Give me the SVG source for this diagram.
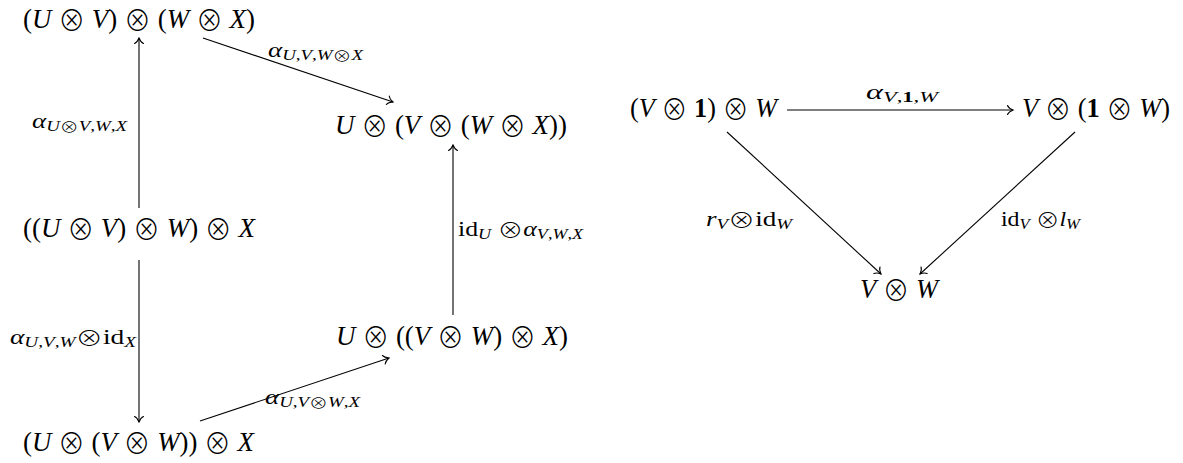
<svg xmlns="http://www.w3.org/2000/svg" width="1183" height="463" viewBox="0 0 1183 463">
<style>
text { font-family: "Liberation Serif", "DejaVu Serif", serif; fill: #000; }
.n { font-size: 28px; }
.l { font-size: 20px; }
.s { font-size: 14px; }
.i { font-style: italic; }
.b { font-weight: bold; font-style: normal; }
.o { font-family: "DejaVu Sans", "Noto Sans CJK JP", sans-serif; font-weight: 200; font-style: normal; baseline-shift: -0.1em; }
.c line { stroke: #000; stroke-width: 1.1; fill: none; marker-end: url(#arr); }
</style>
<defs>
<marker id="arr" viewBox="-7 -6 8 12" refX="0" refY="0" markerWidth="8" markerHeight="12" markerUnits="userSpaceOnUse" orient="auto">
<path d="M -5.5 -4.5 C -4.5 -2 -1.5 -0.6 0 0 C -1.5 0.6 -4.5 2 -5.5 4.5" fill="none" stroke="#000" stroke-width="1.1" stroke-linecap="round"/>
</marker>
</defs>
<rect width="1183" height="463" fill="#fff"/>

<g id="n1"><text class="n" x="23" y="28" textLength="232" lengthAdjust="spacingAndGlyphs">(<tspan class="i">U</tspan> <tspan class="o">⊗</tspan> <tspan class="i">V</tspan>) <tspan class="o">⊗</tspan> (<tspan class="i">W</tspan> <tspan class="o">⊗</tspan> <tspan class="i">X</tspan>)</text></g>
<g id="n2"><text class="n" x="335" y="134" textLength="232" lengthAdjust="spacingAndGlyphs"><tspan class="i">U</tspan> <tspan class="o">⊗</tspan> (<tspan class="i">V</tspan> <tspan class="o">⊗</tspan> (<tspan class="i">W</tspan> <tspan class="o">⊗</tspan> <tspan class="i">X</tspan>))</text></g>
<g id="n3"><text class="n" x="23" y="237" textLength="232" lengthAdjust="spacingAndGlyphs">((<tspan class="i">U</tspan> <tspan class="o">⊗</tspan> <tspan class="i">V</tspan>) <tspan class="o">⊗</tspan> <tspan class="i">W</tspan>) <tspan class="o">⊗</tspan> <tspan class="i">X</tspan></text></g>
<g id="n4"><text class="n" x="336" y="345" textLength="232" lengthAdjust="spacingAndGlyphs"><tspan class="i">U</tspan> <tspan class="o">⊗</tspan> ((<tspan class="i">V</tspan> <tspan class="o">⊗</tspan> <tspan class="i">W</tspan>) <tspan class="o">⊗</tspan> <tspan class="i">X</tspan>)</text></g>
<g id="n5"><text class="n" x="23" y="451" textLength="231" lengthAdjust="spacingAndGlyphs">(<tspan class="i">U</tspan> <tspan class="o">⊗</tspan> (<tspan class="i">V</tspan> <tspan class="o">⊗</tspan> <tspan class="i">W</tspan>)) <tspan class="o">⊗</tspan> <tspan class="i">X</tspan></text></g>
<g id="n6"><text class="n" x="630" y="117" textLength="147" lengthAdjust="spacingAndGlyphs">(<tspan class="i">V</tspan> <tspan class="o">⊗</tspan> <tspan class="b">1</tspan>) <tspan class="o">⊗</tspan> <tspan class="i">W</tspan></text></g>
<g id="n7"><text class="n" x="1022" y="117" textLength="148" lengthAdjust="spacingAndGlyphs"><tspan class="i">V</tspan> <tspan class="o">⊗</tspan> (<tspan class="b">1</tspan> <tspan class="o">⊗</tspan> <tspan class="i">W</tspan>)</text></g>
<g id="n8"><text class="n" x="860" y="298" textLength="78" lengthAdjust="spacingAndGlyphs"><tspan class="i">V</tspan> <tspan class="o">⊗</tspan> <tspan class="i">W</tspan></text></g>

<g id="connectors" class="c">
<line x1="139" y1="208" x2="139" y2="38"/>
<line x1="139" y1="260" x2="139" y2="422"/>
<line x1="203" y1="38" x2="393" y2="102"/>
<line x1="200" y1="421" x2="389" y2="358"/>
<line x1="453" y1="315" x2="453" y2="145"/>
<line x1="787" y1="110" x2="1013" y2="110"/>
<line x1="727" y1="132" x2="881" y2="274"/>
<line x1="1075" y1="132" x2="920" y2="274"/>
</g>

<g id="labels">
<text x="32" y="128" textLength="95" lengthAdjust="spacingAndGlyphs"><tspan class="l i">α</tspan><tspan class="s" y="131"><tspan class="i">U</tspan><tspan class="o">⊗</tspan><tspan class="i">V</tspan>,<tspan class="i">W</tspan>,<tspan class="i">X</tspan></tspan></text>
<text x="268" y="57" textLength="95" lengthAdjust="spacingAndGlyphs"><tspan class="l i">α</tspan><tspan class="s" y="60"><tspan class="i">U</tspan>,<tspan class="i">V</tspan>,<tspan class="i">W</tspan><tspan class="o">⊗</tspan><tspan class="i">X</tspan></tspan></text>
<text x="458" y="236" textLength="125" lengthAdjust="spacingAndGlyphs"><tspan class="l">id</tspan><tspan class="s i" y="239">U</tspan><tspan class="l" y="236"> <tspan class="o">⊗</tspan></tspan><tspan class="l i">α</tspan><tspan class="s" y="239"><tspan class="i">V</tspan>,<tspan class="i">W</tspan>,<tspan class="i">X</tspan></tspan></text>
<text x="10" y="344" textLength="126" lengthAdjust="spacingAndGlyphs"><tspan class="l i">α</tspan><tspan class="s" y="347"><tspan class="i">U</tspan>,<tspan class="i">V</tspan>,<tspan class="i">W</tspan></tspan><tspan class="l o" y="344">⊗</tspan><tspan class="l">id</tspan><tspan class="s i" y="347">X</tspan></text>
<text x="265" y="404" textLength="95" lengthAdjust="spacingAndGlyphs"><tspan class="l i">α</tspan><tspan class="s" y="407"><tspan class="i">U</tspan>,<tspan class="i">V</tspan><tspan class="o">⊗</tspan><tspan class="i">W</tspan>,<tspan class="i">X</tspan></tspan></text>
<text x="866" y="99" textLength="72" lengthAdjust="spacingAndGlyphs"><tspan class="l i">α</tspan><tspan class="s" y="102"><tspan class="i">V</tspan>,<tspan class="b">1</tspan>,<tspan class="i">W</tspan></tspan></text>
<text x="706" y="226" textLength="86" lengthAdjust="spacingAndGlyphs"><tspan class="l i">r</tspan><tspan class="s i" y="229">V</tspan><tspan class="l o" y="226">⊗</tspan><tspan class="l">id</tspan><tspan class="s i" y="229">W</tspan></text>
<text x="1001" y="226" textLength="79" lengthAdjust="spacingAndGlyphs"><tspan class="l">id</tspan><tspan class="s i" y="229">V</tspan><tspan class="l" y="226"> <tspan class="o">⊗</tspan></tspan><tspan class="l i">l</tspan><tspan class="s i" y="229">W</tspan></text>
</g>
</svg>
